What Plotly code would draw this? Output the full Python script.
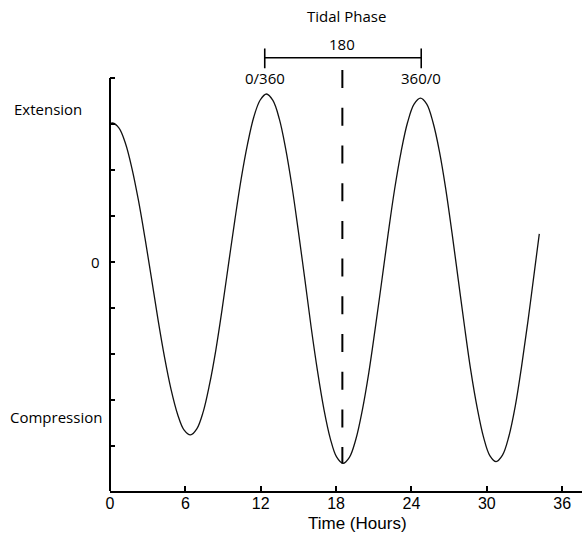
import plotly.graph_objects as go

# Tidal strain curve: time in hours vs. relative strain (extension > 0 > compression)
hours = [0.0, 0.2, 0.72, 1.24, 1.75, 2.27, 2.79, 3.31, 3.82, 4.34, 4.86, 5.38, 5.89, 6.41,
         6.91, 7.42, 7.92, 8.43, 8.93, 9.43, 9.94, 10.44, 10.95, 11.45, 11.96, 12.46,
         12.97, 13.48, 13.98, 14.49, 14.99, 15.51, 16.01, 16.52, 17.03, 17.54, 18.04, 18.55,
         19.06, 19.58, 20.09, 20.61, 21.12, 21.64, 22.15, 22.66, 23.18, 23.69, 24.21, 24.72,
         25.22, 25.72, 26.23, 26.73, 27.23, 27.73, 28.23, 28.73, 29.24, 29.74, 30.24, 30.74,
         31.25, 31.76, 32.27, 32.77, 33.28, 33.79, 34.18]
strain = [3.00, 3.02, 2.91, 2.57, 2.03, 1.33, 0.51, -0.37, -1.25, -2.07, -2.77, -3.31, -3.65, -3.76,
          -3.63, -3.26, -2.67, -1.91, -1.02, -0.06, 0.91, 1.80, 2.56, 3.15, 3.52, 3.65,
          3.51, 3.11, 2.47, 1.64, 0.68, -0.37, -1.41, -2.37, -3.20, -3.84, -4.24, -4.38,
          -4.25, -3.85, -3.22, -2.40, -1.44, -0.41, 0.62, 1.58, 2.40, 3.03, 3.43, 3.56,
          3.43, 3.03, 2.40, 1.59, 0.63, -0.39, -1.41, -2.37, -3.18, -3.81, -4.21, -4.34,
          -4.20, -3.79, -3.13, -2.27, -1.28, -0.21, 0.61]

# Tidal phase markers (hours) and their labels
phase_hours = [12.32, 18.5, 24.78]
phase_labels = ["0/360", "180", "360/0"]
phase_min_strain = -4.38

x_ticks = [0, 6, 12, 18, 24, 30, 36]
y_ticks = [-4, -3, -2, -1, 0, 1, 2, 3, 4]
y_labels = ["Extension", "0", "Compression"]
y_label_values = [3.33, 0, -3.38]

X_RANGE = [0, 37.58]
Y_RANGE = [-4.98, 5.694]
AXIS_TOP = 4.0

label_font = dict(family="Open Sans", size=15, color="black")

fig = go.Figure()
fig.add_trace(go.Scatter(
    x=hours, y=strain, mode="lines",
    line=dict(color="#111111", width=1.3, shape="spline", smoothing=1.0),
    hoverinfo="skip",
))

shapes = [
    # vertical axis line (stops at the top tick)
    dict(type="line", xref="paper", yref="y", x0=0, x1=0,
         y0=Y_RANGE[0], y1=AXIS_TOP, line=dict(color="black", width=2)),
    # phase bracket
    dict(type="line", xref="x", yref="y", x0=phase_hours[0], x1=phase_hours[2],
         y0=4.44, y1=4.44, line=dict(color="black", width=1.6)),
    dict(type="line", xref="x", yref="y", x0=phase_hours[0], x1=phase_hours[0],
         y0=4.21, y1=4.64, line=dict(color="black", width=1.6)),
    dict(type="line", xref="x", yref="y", x0=phase_hours[2], x1=phase_hours[2],
         y0=4.21, y1=4.64, line=dict(color="black", width=1.6)),
    # dashed 180 degree marker down to the trough
    dict(type="line", xref="x", yref="y", x0=phase_hours[1], x1=phase_hours[1],
         y0=4.17, y1=phase_min_strain,
         line=dict(color="black", width=2, dash="18px,19.7px")),
]

annotations = [
    dict(text="Tidal Phase", x=18.8, y=5.35, xref="x", yref="y",
         showarrow=False, font=label_font, xanchor="center", yanchor="middle"),
    dict(text=phase_labels[1], x=phase_hours[1], y=4.74, xref="x", yref="y",
         showarrow=False, font=label_font, xanchor="center", yanchor="middle"),
    dict(text=phase_labels[0], x=phase_hours[0], y=4.0, xref="x", yref="y",
         showarrow=False, font=label_font, xanchor="center", yanchor="middle"),
    dict(text=phase_labels[2], x=phase_hours[2], y=4.0, xref="x", yref="y",
         showarrow=False, font=label_font, xanchor="center", yanchor="middle"),
    dict(text=y_labels[0], x=-0.1324, y=y_label_values[0], xref="paper", yref="y",
         showarrow=False, font=label_font, xanchor="center", yanchor="middle"),
    dict(text=y_labels[1], x=-0.017, y=y_label_values[1], xref="paper", yref="y",
         showarrow=False, font=label_font, xanchor="right", yanchor="middle"),
    dict(text=y_labels[2], x=-0.1144, y=y_label_values[2], xref="paper", yref="y",
         showarrow=False, font=label_font, xanchor="center", yanchor="middle"),
    dict(text="Time (Hours)", x=19.7, y=-0.066, xref="x", yref="paper",
         showarrow=False, font=dict(family="Liberation Sans", size=17, color="black"),
         xanchor="center", yanchor="middle"),
]

fig.update_layout(
    width=582, height=535,
    margin=dict(l=110, r=0, t=0, b=44, pad=0),
    paper_bgcolor="white", plot_bgcolor="white",
    showlegend=False,
    shapes=shapes,
    annotations=annotations,
    xaxis=dict(
        range=X_RANGE, tickvals=x_ticks, ticks="inside", ticklen=5,
        tickwidth=1.5, tickcolor="black", showline=True, linewidth=2,
        linecolor="black", showgrid=False, zeroline=False,
        ticklabelstandoff=-3,
        tickfont=dict(family="Liberation Sans", size=16, color="black"),
    ),
    yaxis=dict(
        range=Y_RANGE, tickvals=y_ticks, ticks="inside", ticklen=5,
        tickwidth=1.5, tickcolor="black", showticklabels=False,
        showline=False, showgrid=False, zeroline=False,
    ),
)

fig.write_html("out.html")
